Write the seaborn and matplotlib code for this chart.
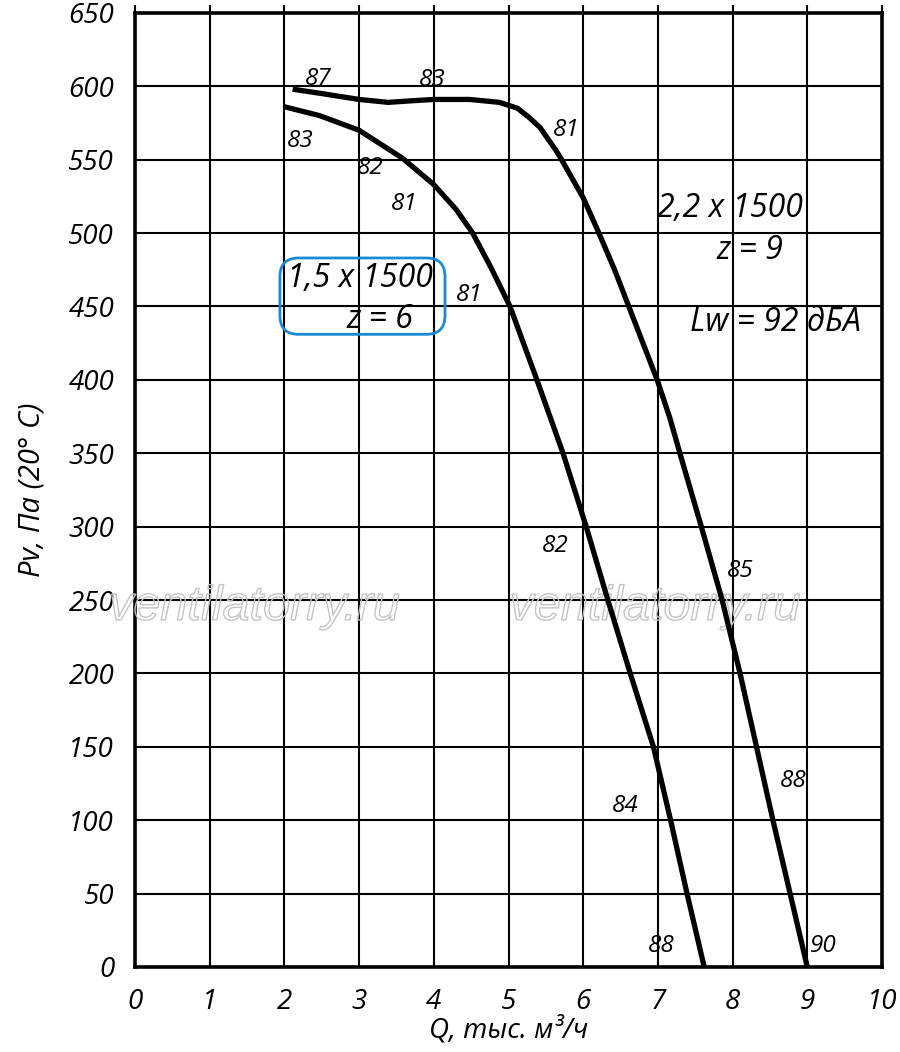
import numpy as np
import pandas as pd
import matplotlib
matplotlib.use("Agg")
import matplotlib.pyplot as plt
import matplotlib.patheffects as pe
from matplotlib.patches import FancyBboxPatch
import seaborn as sns

# Fan curves (Q in thousand m3/h, Pv in Pa)

q_big = [2.11, 2.5, 3.0, 3.39, 3.68, 4.0, 4.48, 4.88, 5.12, 5.27, 5.42, 5.64, 5.71, 6.0, 6.21, 6.42, 6.61, 6.8, 6.99, 7.16, 7.3, 7.57, 7.86, 8.1, 8.32, 8.54, 8.77, 9.0]
p_big = [598, 595, 591, 589, 590, 591, 591, 589, 585, 579, 572, 556, 550, 524, 500, 475, 450, 425, 400, 374, 349, 302, 250, 200, 150, 100, 50, 0]

q_small = [2.0, 2.47, 3.0, 3.58, 4.0, 4.3, 4.52, 4.77, 5.02, 5.38, 5.73, 6.04, 6.33, 6.63, 6.94, 7.17, 7.39, 7.62]
p_small = [586, 580, 570, 551, 533, 516, 500, 476, 450, 400, 350, 300, 250, 200, 150, 100, 50, 0]

# Noise levels written along the curves
noise_text = ["87", "83", "81", "83", "82", "81", "81", "82", "85", "84", "88", "88", "90"]
noise_q = [2.45, 3.98, 5.78, 2.21, 3.15, 3.61, 4.48, 5.62, 8.10, 6.57, 8.81, 7.05, 9.21]
noise_p = [605, 604, 570, 563, 544, 520, 458, 287, 270, 110, 127, 14, 14]

x_ticks = list(range(0, 11))
y_ticks = list(range(0, 651, 50))

df = pd.concat([
    pd.DataFrame({"Q": q_big, "Pv": p_big, "fan": "2,2 x 1500"}),
    pd.DataFrame({"Q": q_small, "Pv": p_small, "fan": "1,5 x 1500"}),
])

sns.set_style("white")
plt.rcParams["font.family"] = ["Open Sans", "DejaVu Sans"]
plt.rcParams["font.style"] = "italic"
plt.rcParams["text.color"] = "black"
plt.rcParams["axes.labelcolor"] = "black"
plt.rcParams["xtick.color"] = "black"
plt.rcParams["ytick.color"] = "black"

fig = plt.figure(figsize=(9, 10.52), dpi=100)
ax = fig.add_axes([0.15, 0.0808, 0.83, 0.907])

sns.lineplot(data=df, x="Q", y="Pv", units="fan", estimator=None, color="black",
             linewidth=3.8, ax=ax, zorder=5, sort=True,
             solid_joinstyle="round", solid_capstyle="butt")

ax.set_xlim(0, 10)
ax.set_ylim(0, 650)
ax.set_xticks(x_ticks)
ax.set_yticks(y_ticks)
ax.set_xticklabels([str(v) for v in x_ticks], fontsize=20, style="italic")
ax.set_yticklabels([str(v) for v in y_ticks], fontsize=20, style="italic")
ax.grid(True, color="black", linewidth=1.5)
ax.tick_params(axis="y", direction="out", length=8, width=1.5, pad=7)
ax.tick_params(axis="x", direction="out", length=6, width=1.5, pad=9, top=True)
for s in ax.spines.values():
    s.set_visible(True)
    s.set_color("black")
    s.set_linewidth(2.6)

ax.set_xlabel("Q, тыс. м³/ч", fontsize=20, style="italic", labelpad=0)
ax.set_ylabel("Pv, Па (20° C)", fontsize=21, style="italic", labelpad=16)

# Noise level labels
for t, q, p in zip(noise_text, noise_q, noise_p):
    ax.text(q, p, t, fontsize=17.5, style="italic", ha="center", va="center", zorder=6)

# Fan descriptions
big = dict(fontsize=23, style="italic", ha="center", va="center", zorder=6)
ax.text(7.97, 517, "2,2 x 1500", **big)
ax.text(8.23, 488, "z = 9", **big)
ax.text(8.57, 439, "Lw = 92 дБА", **big)
ax.text(3.01, 469, "1,5 x 1500", **big)
ax.text(3.28, 441, "z = 6", **big)

box = FancyBboxPatch((1.94, 431), 2.21, 52, boxstyle="round,pad=0,rounding_size=0.25",
                     mutation_aspect=50.9, transform=ax.transData, fill=False,
                     edgecolor="#1a8ad4", linewidth=2.0, zorder=7)
ax.add_patch(box)

# Watermarks (the left one runs under the 250 label, as in the source)
for q in [1.6, 6.96]:
    ax.text(q, 245, "ventilatorry.ru", fontsize=35, family="Liberation Sans", style="italic",
            color=(1, 1, 1, 0), ha="center", va="center", zorder=4,
            path_effects=[pe.Stroke(linewidth=1.0, foreground="#c4c4c4")])

fig.savefig("out.png", dpi=100)
